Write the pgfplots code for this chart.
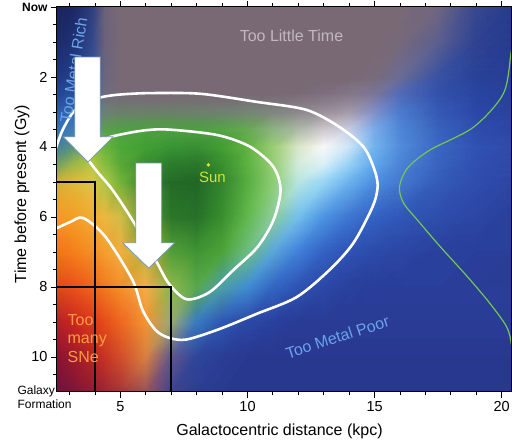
\documentclass[border=0pt]{standalone}
\usepackage{pgfplots}
\pgfplotsset{compat=1.18}
\usepackage{fontspec}
\setmainfont{Liberation Sans}
\usetikzlibrary{calc}
\definecolor{arrowedge}{rgb}{0.45,0.58,0.72}
\definecolor{sungreen}{rgb}{0.82,0.9,0.2}
\definecolor{gline}{rgb}{0.45,0.78,0.32}
\definecolor{ltime}{rgb}{0.76,0.72,0.76}
\definecolor{metalblue}{rgb}{0.42,0.64,0.92}
\definecolor{snecol}{rgb}{0.98,0.62,0.25}
\begin{document}
\begin{tikzpicture}
\begin{axis}[
 scale only axis, width=454pt, height=385pt,
 xmin=2.5, xmax=20.37, ymin=0, ymax=11, y dir=reverse,
 axis on top,
 xtick={5,10,15,20},
 minor xtick={3,4,6,7,8,9,11,12,13,14,16,17,18,19},
 ytick={0,2,4,6,8,10},
 yticklabels={{\fontsize{12}{12}\selectfont\bfseries Now},2,4,6,8,10},
 minor ytick={0.5,1,1.5,...,10.5},
 tick align=outside, ytick pos=left,
 major tick length=6pt, minor tick length=3.5pt,
 every tick/.style={black, line width=0.9pt},
 axis line style={black, line width=1pt},
 tick label style={font=\fontsize{14.5}{16}\selectfont},
 /pgf/number format/assume math mode=true,
]
\addplot[surf, shader=interp, mesh/cols=19, mesh/color input=explicit] table[x=x,y=y,meta=c] {
x y c
2.5 0 rgb=0.10,0.14,0.36
3.2 0 rgb=0.11,0.16,0.40
3.9 0 rgb=0.18,0.24,0.50
4.4 0 rgb=0.42,0.38,0.47
5 0 rgb=0.47,0.41,0.46
6 0 rgb=0.47,0.41,0.46
7 0 rgb=0.47,0.41,0.46
8 0 rgb=0.47,0.41,0.46
9 0 rgb=0.47,0.41,0.46
10 0 rgb=0.47,0.41,0.46
11 0 rgb=0.47,0.41,0.46
12 0 rgb=0.47,0.41,0.46
13 0 rgb=0.47,0.41,0.46
14 0 rgb=0.47,0.41,0.46
15 0 rgb=0.47,0.41,0.46
16 0 rgb=0.47,0.41,0.46
17.5 0 rgb=0.44,0.40,0.50
19 0 rgb=0.22,0.28,0.56
20.5 0 rgb=0.15,0.23,0.55
2.5 1 rgb=0.11,0.17,0.42
3.2 1 rgb=0.12,0.20,0.46
3.9 1 rgb=0.20,0.28,0.55
4.4 1 rgb=0.42,0.38,0.48
5 1 rgb=0.47,0.41,0.46
6 1 rgb=0.47,0.41,0.46
7 1 rgb=0.47,0.41,0.46
8 1 rgb=0.47,0.41,0.46
9 1 rgb=0.47,0.41,0.46
10 1 rgb=0.47,0.41,0.46
11 1 rgb=0.47,0.41,0.46
12 1 rgb=0.47,0.41,0.46
13 1 rgb=0.47,0.41,0.46
14 1 rgb=0.47,0.41,0.46
15 1 rgb=0.47,0.41,0.46
16 1 rgb=0.46,0.41,0.48
17.5 1 rgb=0.36,0.37,0.56
19 1 rgb=0.18,0.26,0.57
20.5 1 rgb=0.15,0.23,0.56
2.5 2 rgb=0.13,0.22,0.50
3.2 2 rgb=0.14,0.26,0.55
3.9 2 rgb=0.22,0.34,0.60
4.4 2 rgb=0.42,0.40,0.50
5 2 rgb=0.47,0.41,0.46
6 2 rgb=0.47,0.41,0.46
7 2 rgb=0.47,0.41,0.46
8 2 rgb=0.47,0.41,0.46
9 2 rgb=0.47,0.41,0.46
10 2 rgb=0.47,0.41,0.46
11 2 rgb=0.47,0.41,0.46
12 2 rgb=0.47,0.41,0.46
13 2 rgb=0.47,0.41,0.46
14 2 rgb=0.47,0.41,0.46
15 2 rgb=0.47,0.42,0.48
16 2 rgb=0.42,0.42,0.58
17.5 2 rgb=0.22,0.32,0.64
19 2 rgb=0.16,0.26,0.60
20.5 2 rgb=0.15,0.24,0.58
2.5 2.5 rgb=0.15,0.28,0.58
3.2 2.5 rgb=0.16,0.32,0.62
3.9 2.5 rgb=0.25,0.40,0.62
4.4 2.5 rgb=0.43,0.42,0.50
5 2.5 rgb=0.46,0.42,0.46
6 2.5 rgb=0.47,0.41,0.46
7 2.5 rgb=0.47,0.41,0.46
8 2.5 rgb=0.47,0.41,0.46
9 2.5 rgb=0.47,0.41,0.46
10 2.5 rgb=0.47,0.41,0.46
11 2.5 rgb=0.47,0.41,0.46
12 2.5 rgb=0.48,0.42,0.47
13 2.5 rgb=0.50,0.44,0.50
14 2.5 rgb=0.52,0.47,0.54
15 2.5 rgb=0.48,0.46,0.60
16 2.5 rgb=0.32,0.42,0.72
17.5 2.5 rgb=0.20,0.32,0.67
19 2.5 rgb=0.16,0.27,0.63
20.5 2.5 rgb=0.15,0.25,0.60
2.5 3 rgb=0.18,0.36,0.66
3.2 3 rgb=0.20,0.42,0.70
3.9 3 rgb=0.30,0.50,0.62
4.4 3 rgb=0.42,0.50,0.46
5 3 rgb=0.42,0.50,0.42
6 3 rgb=0.42,0.50,0.42
7 3 rgb=0.42,0.50,0.42
8 3 rgb=0.43,0.50,0.43
9 3 rgb=0.44,0.50,0.44
10 3 rgb=0.46,0.52,0.46
11 3 rgb=0.50,0.52,0.50
12 3 rgb=0.55,0.53,0.55
13 3 rgb=0.60,0.56,0.60
14 3 rgb=0.64,0.60,0.66
15 3 rgb=0.50,0.56,0.78
16 3 rgb=0.30,0.48,0.80
17.5 3 rgb=0.21,0.35,0.71
19 3 rgb=0.17,0.28,0.65
20.5 3 rgb=0.16,0.26,0.62
2.5 3.5 rgb=0.22,0.45,0.72
3.2 3.5 rgb=0.25,0.50,0.72
3.9 3.5 rgb=0.35,0.60,0.50
4.4 3.5 rgb=0.35,0.62,0.30
5 3.5 rgb=0.32,0.62,0.28
6 3.5 rgb=0.30,0.62,0.25
7 3.5 rgb=0.30,0.62,0.25
8 3.5 rgb=0.30,0.62,0.25
9 3.5 rgb=0.33,0.64,0.27
10 3.5 rgb=0.40,0.66,0.32
11 3.5 rgb=0.55,0.70,0.50
12 3.5 rgb=0.68,0.72,0.66
13 3.5 rgb=0.80,0.78,0.80
14 3.5 rgb=0.78,0.80,0.88
15 3.5 rgb=0.48,0.67,0.91
16 3.5 rgb=0.31,0.53,0.84
17.5 3.5 rgb=0.22,0.39,0.74
19 3.5 rgb=0.18,0.30,0.68
20.5 3.5 rgb=0.17,0.27,0.65
2.5 4 rgb=0.28,0.50,0.62
3.2 4 rgb=0.35,0.58,0.48
3.9 4 rgb=0.50,0.72,0.30
4.4 4 rgb=0.42,0.70,0.25
5 4 rgb=0.30,0.66,0.22
6 4 rgb=0.25,0.62,0.20
7 4 rgb=0.22,0.58,0.20
8 4 rgb=0.22,0.56,0.20
9 4 rgb=0.26,0.62,0.20
10 4 rgb=0.38,0.70,0.25
11 4 rgb=0.60,0.80,0.45
12 4 rgb=0.85,0.90,0.78
13 4 rgb=0.97,0.97,0.97
14 4 rgb=0.80,0.90,0.97
15 4 rgb=0.45,0.70,0.93
16 4 rgb=0.32,0.55,0.86
17.5 4 rgb=0.23,0.40,0.76
19 4 rgb=0.19,0.32,0.70
20.5 4 rgb=0.18,0.29,0.67
2.5 4.5 rgb=0.45,0.62,0.40
3.2 4.5 rgb=0.62,0.72,0.28
3.9 4.5 rgb=0.70,0.78,0.28
4.4 4.5 rgb=0.52,0.74,0.25
5 4.5 rgb=0.35,0.66,0.22
6 4.5 rgb=0.22,0.55,0.18
7 4.5 rgb=0.17,0.48,0.17
8 4.5 rgb=0.16,0.46,0.17
9 4.5 rgb=0.22,0.56,0.18
10 4.5 rgb=0.35,0.70,0.25
11 4.5 rgb=0.58,0.80,0.45
12 4.5 rgb=0.82,0.92,0.85
13 4.5 rgb=0.85,0.94,0.97
14 4.5 rgb=0.60,0.82,0.96
15 4.5 rgb=0.38,0.66,0.92
16 4.5 rgb=0.30,0.52,0.84
17.5 4.5 rgb=0.22,0.39,0.75
19 4.5 rgb=0.19,0.31,0.69
20.5 4.5 rgb=0.18,0.28,0.66
2.5 5 rgb=0.82,0.68,0.25
3.2 5 rgb=0.88,0.72,0.22
3.9 5 rgb=0.85,0.78,0.28
4.4 5 rgb=0.68,0.78,0.28
5 5 rgb=0.45,0.70,0.22
6 5 rgb=0.20,0.52,0.17
7 5 rgb=0.14,0.42,0.15
8 5 rgb=0.13,0.40,0.15
9 5 rgb=0.20,0.52,0.18
10 5 rgb=0.34,0.68,0.25
11 5 rgb=0.55,0.80,0.45
12 5 rgb=0.72,0.90,0.88
13 5 rgb=0.60,0.84,0.96
14 5 rgb=0.42,0.70,0.93
15 5 rgb=0.30,0.56,0.88
16 5 rgb=0.27,0.47,0.81
17.5 5 rgb=0.20,0.36,0.72
19 5 rgb=0.18,0.30,0.68
20.5 5 rgb=0.17,0.27,0.64
2.5 6 rgb=0.95,0.60,0.15
3.2 6 rgb=0.96,0.62,0.15
3.9 6 rgb=0.95,0.68,0.20
4.4 6 rgb=0.92,0.72,0.25
5 6 rgb=0.82,0.74,0.28
6 6 rgb=0.35,0.62,0.20
7 6 rgb=0.17,0.47,0.16
8 6 rgb=0.15,0.44,0.16
9 6 rgb=0.22,0.56,0.18
10 6 rgb=0.38,0.72,0.30
11 6 rgb=0.55,0.80,0.60
12 6 rgb=0.45,0.75,0.92
13 6 rgb=0.30,0.58,0.88
14 6 rgb=0.24,0.46,0.82
15 6 rgb=0.20,0.38,0.76
16 6 rgb=0.19,0.34,0.72
17.5 6 rgb=0.18,0.30,0.67
19 6 rgb=0.17,0.27,0.64
20.5 6 rgb=0.16,0.25,0.61
2.5 7 rgb=0.95,0.45,0.10
3.2 7 rgb=0.96,0.50,0.10
3.9 7 rgb=0.96,0.56,0.14
4.4 7 rgb=0.96,0.62,0.18
5 7 rgb=0.95,0.68,0.24
6 7 rgb=0.70,0.72,0.25
7 7 rgb=0.32,0.62,0.22
8 7 rgb=0.25,0.58,0.20
9 7 rgb=0.30,0.64,0.22
10 7 rgb=0.42,0.74,0.50
11 7 rgb=0.35,0.65,0.85
12 7 rgb=0.25,0.50,0.85
13 7 rgb=0.20,0.38,0.76
14 7 rgb=0.18,0.32,0.70
15 7 rgb=0.17,0.29,0.66
16 7 rgb=0.17,0.27,0.64
17.5 7 rgb=0.16,0.25,0.61
19 7 rgb=0.16,0.24,0.60
20.5 7 rgb=0.16,0.24,0.59
2.5 8 rgb=0.88,0.28,0.10
3.2 8 rgb=0.92,0.32,0.10
3.9 8 rgb=0.94,0.40,0.10
4.4 8 rgb=0.95,0.48,0.12
5 8 rgb=0.96,0.56,0.16
6 8 rgb=0.96,0.68,0.28
7 8 rgb=0.55,0.72,0.30
8 8 rgb=0.35,0.66,0.30
9 8 rgb=0.30,0.62,0.65
10 8 rgb=0.25,0.55,0.82
11 8 rgb=0.20,0.40,0.76
12 8 rgb=0.18,0.32,0.70
13 8 rgb=0.17,0.28,0.65
14 8 rgb=0.16,0.25,0.61
15 8 rgb=0.16,0.24,0.60
16 8 rgb=0.16,0.24,0.60
17.5 8 rgb=0.16,0.24,0.60
19 8 rgb=0.16,0.24,0.60
20.5 8 rgb=0.16,0.24,0.60
2.5 9 rgb=0.72,0.12,0.15
3.2 9 rgb=0.80,0.15,0.12
3.9 9 rgb=0.86,0.22,0.10
4.4 9 rgb=0.90,0.30,0.10
5 9 rgb=0.93,0.40,0.12
6 9 rgb=0.95,0.58,0.20
7 9 rgb=0.60,0.66,0.45
8 9 rgb=0.22,0.48,0.75
9 9 rgb=0.18,0.34,0.70
10 9 rgb=0.17,0.28,0.65
11 9 rgb=0.16,0.25,0.61
12 9 rgb=0.16,0.23,0.58
13 9 rgb=0.16,0.23,0.58
14 9 rgb=0.16,0.23,0.58
15 9 rgb=0.16,0.23,0.58
16 9 rgb=0.16,0.23,0.58
17.5 9 rgb=0.16,0.23,0.58
19 9 rgb=0.16,0.23,0.58
20.5 9 rgb=0.16,0.23,0.58
2.5 10 rgb=0.52,0.08,0.20
3.2 10 rgb=0.62,0.10,0.17
3.9 10 rgb=0.72,0.14,0.14
4.4 10 rgb=0.78,0.20,0.14
5 10 rgb=0.82,0.30,0.16
6 10 rgb=0.85,0.50,0.25
7 10 rgb=0.38,0.34,0.56
8 10 rgb=0.18,0.27,0.60
9 10 rgb=0.16,0.24,0.58
10 10 rgb=0.16,0.22,0.56
11 10 rgb=0.16,0.22,0.56
12 10 rgb=0.16,0.22,0.56
13 10 rgb=0.16,0.22,0.56
14 10 rgb=0.16,0.22,0.56
15 10 rgb=0.16,0.22,0.56
16 10 rgb=0.16,0.22,0.56
17.5 10 rgb=0.16,0.22,0.56
19 10 rgb=0.16,0.22,0.56
20.5 10 rgb=0.16,0.22,0.56
2.5 11 rgb=0.42,0.07,0.25
3.2 11 rgb=0.50,0.08,0.22
3.9 11 rgb=0.58,0.10,0.20
4.4 11 rgb=0.62,0.14,0.20
5 11 rgb=0.66,0.20,0.22
6 11 rgb=0.60,0.32,0.35
7 11 rgb=0.25,0.26,0.55
8 11 rgb=0.17,0.24,0.57
9 11 rgb=0.16,0.22,0.56
10 11 rgb=0.16,0.22,0.56
11 11 rgb=0.16,0.22,0.56
12 11 rgb=0.16,0.22,0.56
13 11 rgb=0.16,0.22,0.56
14 11 rgb=0.16,0.22,0.56
15 11 rgb=0.16,0.22,0.56
16 11 rgb=0.16,0.22,0.56
17.5 11 rgb=0.16,0.22,0.56
19 11 rgb=0.16,0.22,0.56
20.5 11 rgb=0.16,0.22,0.56
};
% contours
\addplot[white, line width=2.6pt, smooth] coordinates {
(2.40,4.15) (2.7,3.55) (3.11,3.03) (3.6,2.72) (4.29,2.57) (5.0,2.50) (6.18,2.46) (8.15,2.48) (10.35,2.71) (12.32,2.94) (13.62,3.43) (14.57,4.0) (15.0,4.66) (15.12,5.14) (14.92,5.71) (14.17,6.74) (13.23,7.51) (11.93,8.29) (10.35,8.77) (8.9,9.2) (7.6,9.5) (6.9,9.45) (6.38,9.23) (5.87,8.66) (5.47,7.8) (4.41,6.57) (3.54,6.03) (3.03,6.14) (2.40,6.35)
};
\addplot[white, line width=2.6pt, smooth] coordinates {
(4.2,3.85) (4.61,3.71) (5.79,3.54) (6.85,3.50) (8.82,3.66) (10.12,4.0) (11.02,4.57) (11.3,5.23) (11.02,6.09) (10.39,6.86) (9.45,7.51) (8.5,8.15) (7.6,8.35) (6.9,7.9) (6.38,7.23) (5.47,6.09) (4.69,5.23) (4.1,4.72) (3.74,4.38)
};
% black boxes
\addplot[black, line width=1.8pt] coordinates {(2.3,5) (4,5) (4,11.3)};
\addplot[black, line width=1.8pt] coordinates {(2.3,8) (7,8) (7,11.3)};
% green age curve
\addplot[gline, line width=1.2pt, smooth] coordinates {
(20.6,0.6) (20.39,1.23) (20.08,2.46) (18.9,3.43) (17.17,4.09) (16.3,4.6) (15.98,5.14) (16.14,5.6) (16.69,6.09) (17.6,6.86) (18.66,7.71) (19.53,8.46) (20.2,9.14) (20.39,9.66) (20.45,10.3)
};
% texts
\node[text=ltime, font=\fontsize{16}{16}\selectfont] at (axis cs:11.73,0.83) {Too Little Time};
\node[text=metalblue, rotate=81, font=\fontsize{16}{16}\selectfont] at (axis cs:3.15,1.8) {Too Metal Rich};
\node[text=metalblue, rotate=18, font=\fontsize{16}{16}\selectfont] at (axis cs:13.54,9.43) {Too Metal Poor};
\node[text=snecol, anchor=west, align=left, font=\fontsize{16}{18.5}\selectfont] at (axis cs:2.78,9.46) {Too\\many\\SNe};
% arrows
\addplot[fill=white, draw=arrowedge, line width=0.7pt] coordinates {(3.2,1.43) (4.2,1.43) (4.2,3.71) (4.7,3.71) (3.72,4.43) (2.75,3.71) (3.2,3.71)} -- cycle;
\addplot[fill=white, draw=arrowedge, line width=0.7pt] coordinates {(5.6,4.46) (6.62,4.46) (6.62,6.74) (7.13,6.74) (6.11,7.46) (5.09,6.74) (5.6,6.74)} -- cycle;
% Sun
\addplot[only marks, mark=*, mark size=1.6pt, color=sungreen] coordinates {(8.46,4.51)};
\node[text=sungreen, font=\fontsize{15}{15}\selectfont] at (axis cs:8.62,4.88) {Sun};
\coordinate (TL) at (axis cs:2.5,0);
\coordinate (BL) at (axis cs:2.5,11);
\coordinate (BR) at (axis cs:20.37,11);
\end{axis}
\node[font=\fontsize{16}{16}\selectfont] at ($(BL)!0.49!(BR)+(0,-39pt)$) {Galactocentric distance (kpc)};
\node[rotate=90, font=\fontsize{16}{16}\selectfont] at ($(TL)!0.486!(BL)+(-35pt,0)$) {Time before present (Gy)};
\node[anchor=west, align=left, font=\fontsize{12}{14}\selectfont] at ($(BL)+(-43pt,-5pt)$) {Galaxy\\Formation};
\pgfresetboundingbox
\path[use as bounding box] ($(BL)+(-57pt,-51pt)$) rectangle ($(BR)+(1pt,392pt)$);
\end{tikzpicture}
\end{document}
